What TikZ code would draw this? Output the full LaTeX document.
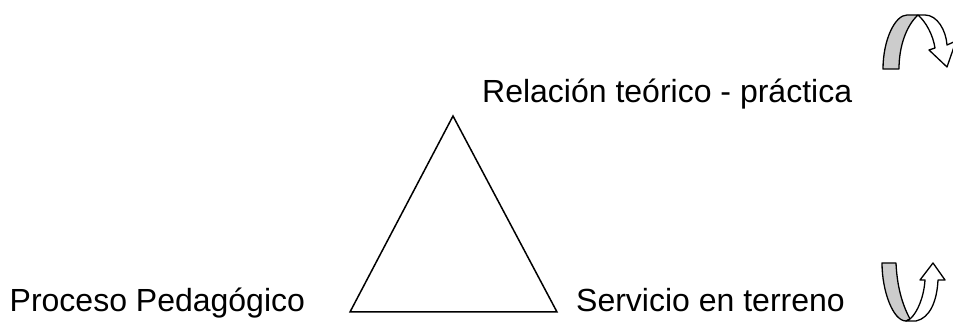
\documentclass[tikz,border=0pt]{standalone}
\usepackage{fontspec}
\setmainfont{Liberation Sans}
\usepackage{xcolor}
\usepackage{tikz}
\usetikzlibrary{calc}

\begin{document}
\begin{tikzpicture}[
    x=1pt, y=1pt,
    font=\fontsize{32}{38}\selectfont,
    label/.style={inner sep=0pt, anchor=base west},
    tri/.style={draw, line width=1.5pt, line join=miter},
    band/.style={draw, line width=1.3pt, line join=round},
    backface/.style={band, fill=black!20},
    frontface/.style={band, fill=white}
  ]
    % Page frame
    \useasboundingbox (0,0) rectangle (953,326);
    \clip (0,0) rectangle (953,326);

    % Triangle corners
    \coordinate (apex) at (453,210);
    \coordinate (bl) at (350,14);
    \coordinate (br) at (557,14);
    \draw[tri] (apex) -- (bl) -- (br) -- cycle;

    % Labels
    \node[label] (rel) at (482,223) {Relación teórico - práctica};
    \node[label] (proc) at (9.5,14) {Proceso Pedagógico};
    \node[label] (serv) at (576,14) {Servicio en terreno};

    % Upper turning arrow
    \draw[backface] (883,257) .. controls (883,286) and (895,311) .. (907,311)
      -- (918,311) .. controls (907,301) and (899,281) .. (899,257) -- cycle;
    \draw[frontface] (918,311) -- (925,311) .. controls (937,311) and (946,296) .. (947,281)
      -- (956,285) -- (947,259) -- (929,276) -- (935,278)
      .. controls (933,291) and (926,304) .. (918,311) -- cycle;

    % Lower turning arrow
    \draw[backface] (882,63) -- (896,63) .. controls (897,40) and (902,22) .. (910,7)
      -- (906,5) .. controls (893,5) and (882,35) .. (882,63) -- cycle;
    \draw[frontface] (906,5) -- (916,5) .. controls (930,8) and (937,25) .. (938,46)
      -- (945,46) -- (933,63) -- (920,46) -- (925,46)
      .. controls (924,30) and (918,14) .. (910,7) -- cycle;
  \end{tikzpicture}
\end{document}
